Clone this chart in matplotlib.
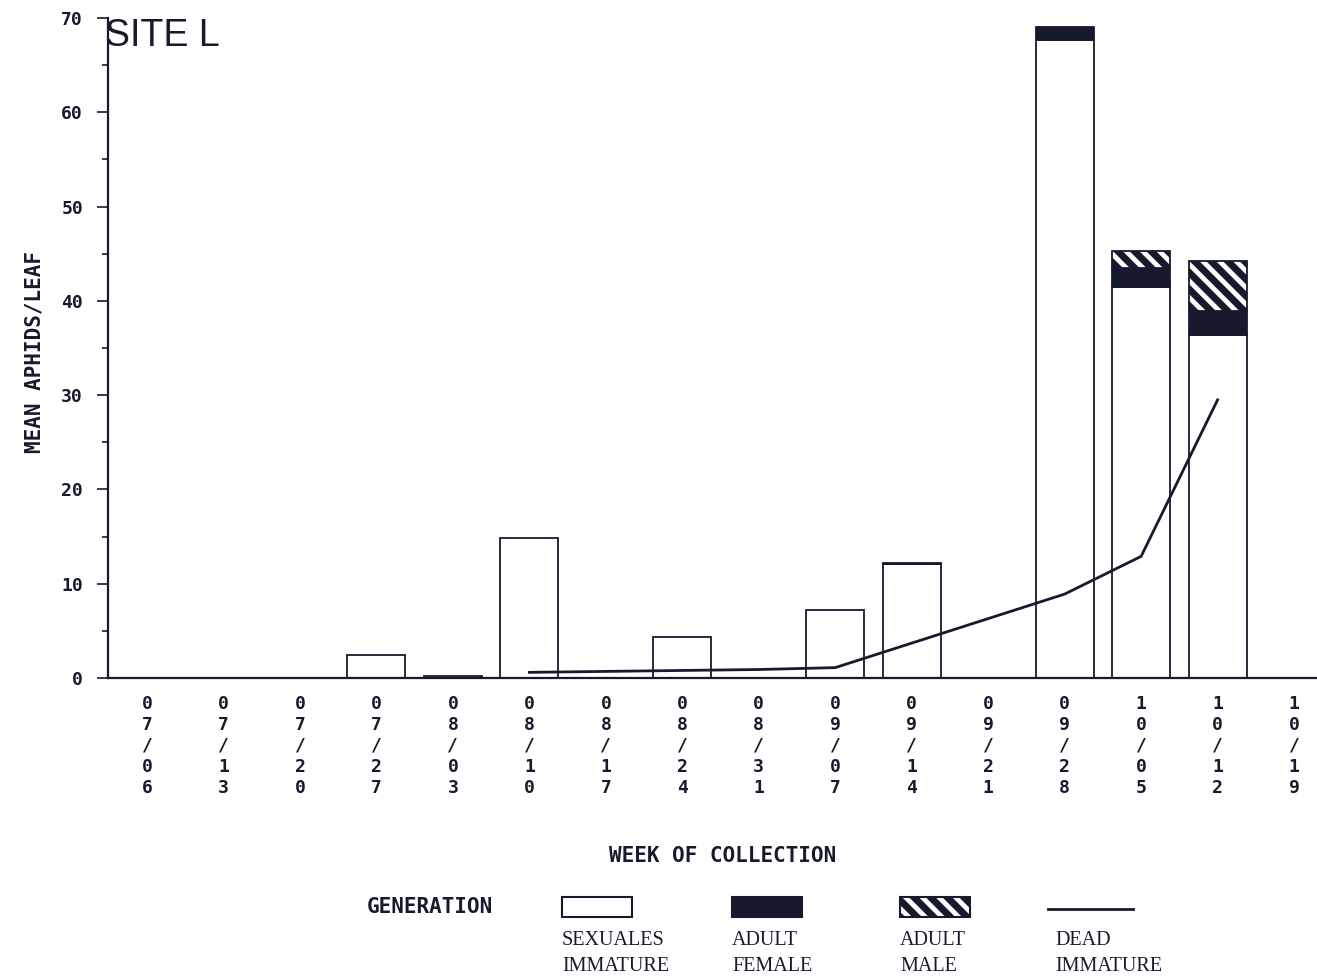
import numpy as np
import matplotlib
matplotlib.use("Agg")
import matplotlib.pyplot as plt
from matplotlib.patches import Rectangle
from matplotlib.lines import Line2D
from matplotlib.ticker import MultipleLocator

INK = "#161a2c"
W, H = 1317, 976

weeks = ["07/06", "07/13", "07/20", "07/27", "08/03", "08/10", "08/17", "08/24",
         "08/31", "09/07", "09/14", "09/21", "09/28", "10/05", "10/12", "10/19"]
sexuales_immature = [0, 0, 0, 2.4, 0.2, 14.8, 0, 4.4, 0, 7.2, 12.1, 0, 67.7, 41.5, 36.4, 0]
adult_female = [0, 0, 0, 0, 0, 0, 0, 0, 0, 0, 0.15, 0, 1.3, 2.0, 2.5, 0]
adult_male = [0, 0, 0, 0, 0, 0, 0, 0, 0, 0, 0, 0, 0, 1.8, 5.3, 0]
dead_immature = [np.nan, np.nan, np.nan, np.nan, np.nan, 0.6, 0.7, 0.8, 0.9, 1.1,
                 3.7, 6.3, 8.9, 12.9, 29.5, np.nan]

MONO = "DejaVu Sans Mono"
SERIF = "Liberation Serif"

plt.rcParams["hatch.linewidth"] = 5
plt.rcParams["hatch.color"] = INK


def draw_bars(ax, x):
    sx = np.array(sexuales_immature)
    fe = np.array(adult_female)
    ma = np.array(adult_male)
    kw = dict(width=0.76, edgecolor=INK, linewidth=1.3)
    ax.bar(x, sx, color="white", **kw)
    keep = fe > 0
    ax.bar(x[keep], fe[keep], bottom=sx[keep], color=INK, **kw)
    keep = ma > 0
    ax.bar(x[keep], ma[keep], bottom=(sx + fe)[keep], color="white", hatch="\\\\", **kw)


def draw_legend(fig):
    lax = fig.add_axes([0, 0, 1, 1], zorder=-1)
    lax.set_xlim(0, W)
    lax.set_ylim(H, 0)
    lax.axis("off")
    lax.text(367, 907, "GENERATION", family=MONO, weight="bold", fontsize=15,
             color=INK, va="center", ha="left")
    lax.add_patch(Rectangle((562, 897), 70, 20, facecolor="white", edgecolor=INK, lw=1.5))
    lax.add_patch(Rectangle((732, 897), 70, 20, facecolor=INK, edgecolor=INK, lw=1.5))
    lax.add_patch(Rectangle((900, 897), 70, 20, facecolor="white", edgecolor=INK, lw=1.5,
                            hatch="\\\\"))
    lax.add_line(Line2D([1048, 1133], [909, 909], color=INK, lw=2))
    names = [(562, "SEXUALES\nIMMATURE"), (732, "ADULT\nFEMALE"),
             (900, "ADULT\nMALE"), (1055, "DEAD\nIMMATURE")]
    for xp, txt in names:
        lax.text(xp, 931, txt, family=SERIF, fontsize=14.5, color=INK,
                 ha="left", va="top", linespacing=1.5)


def main():
    fig = plt.figure(figsize=(W / 100, H / 100), dpi=100)
    ax = fig.add_axes([108 / W, 298 / H, 1209 / W, 660 / H])
    x = np.arange(len(weeks))

    draw_bars(ax, x)
    ax.plot(x, dead_immature, color=INK, lw=2)

    ax.set_xlim(-0.51, 15.3)
    ax.set_ylim(0, 70)
    ax.set_xticks(x)
    ax.set_xticklabels(["\n".join(w) for w in weeks], family=MONO, weight="bold",
                       fontsize=13, color=INK, linespacing=1.22)
    ax.tick_params(axis="x", length=0, pad=12)
    ax.yaxis.set_major_locator(MultipleLocator(10))
    ax.yaxis.set_minor_locator(MultipleLocator(5))
    ax.tick_params(axis="y", which="major", length=8, width=1.2, color=INK, pad=10)
    ax.tick_params(axis="y", which="minor", length=4, width=1.2, color=INK)
    for lab in ax.get_yticklabels():
        lab.set_family(MONO)
        lab.set_weight("bold")
        lab.set_fontsize(13)
        lab.set_color(INK)

    for side in ["top", "right"]:
        ax.spines[side].set_visible(False)
    for side in ["left", "bottom"]:
        ax.spines[side].set_color(INK)
        ax.spines[side].set_linewidth(1.6)

    ax.text(105 / W, 1 - 36 / H, "SITE L", transform=fig.transFigure,
            family="Liberation Sans", fontsize=27, color=INK, ha="left", va="center")
    fig.text(35 / W, 1 - 352 / H, "MEAN APHIDS/LEAF", family=MONO, weight="bold",
             fontsize=15, color=INK, rotation=90, ha="center", va="center")
    fig.text(723 / W, 1 - 856 / H, "WEEK OF COLLECTION", family=MONO, weight="bold",
             fontsize=15, color=INK, ha="center", va="center")

    draw_legend(fig)
    fig.savefig("out.png", dpi=100, facecolor="white")
    plt.close(fig)


if __name__ == "__main__":
    main()
